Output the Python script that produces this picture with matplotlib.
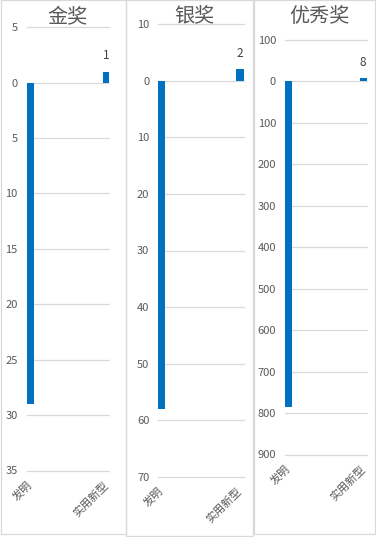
import matplotlib
matplotlib.use('Agg')
import matplotlib.pyplot as plt
from matplotlib.patches import Rectangle
from matplotlib.ticker import FuncFormatter, MultipleLocator

plt.rcParams['font.family'] = ['Noto Sans CJK SC', 'DejaVu Sans']

# data
titles = ['金奖', '银奖', '优秀奖']
categories = ['发明', '实用新型']
faming = [29, 58, 785]
shiyong = [1, 2, 8]
y_max = [35, 70, 900]
y_min = [5, 10, 100]
y_step = [5, 10, 100]

W, H = 376, 537
blue = '#0070C0'
grid_c = '#D9D9D9'
text_c = '#595959'

def rect(x0, y0, x1, y1):
    return [x0 / W, 1 - y1 / H, (x1 - x0) / W, (y1 - y0) / H]

fig = plt.figure(figsize=(W / 100, H / 100), dpi=100)

# panel frames
frames = [(1, 0, 126, 534), (126, 0, 253, 536), (254, 0, 375, 534)]
for x0, y0, x1, y1 in frames:
    fig.patches.append(Rectangle((x0 / W, 1 - y1 / H), (x1 - x0) / W, (y1 - y0) / H,
                                 transform=fig.transFigure, fill=False,
                                 edgecolor=grid_c, linewidth=0.9))

axes_px = [(26.7, 27.3, 109.5, 470.5), (158.3, 24, 243.5, 477), (285, 40, 366.5, 454.5)]
title_px = [(68, 17), (194.5, 16.5), (319, 17)]

w = 0.09
for i in range(3):
    ax = fig.add_axes(rect(*axes_px[i]))
    ax.bar(0, faming[i], width=w, color=blue, zorder=3)
    ax.bar(1, -shiyong[i], width=w, color=blue, zorder=3)
    ax.annotate(str(shiyong[i]), xy=(1, -shiyong[i]), xytext=(0, 11.5),
                textcoords='offset points', ha='center', va='center',
                fontsize=8.5, color='#404040')
    ax.set_xlim(-w / 2, 1 + w / 2)
    ax.set_ylim(y_max[i], -y_min[i])
    ax.yaxis.set_major_locator(MultipleLocator(y_step[i]))
    ax.yaxis.set_major_formatter(FuncFormatter(lambda v, p: '%d' % abs(round(v))))
    ax.grid(axis='y', color=grid_c, linewidth=0.9, zorder=0)
    for g in ax.get_ygridlines():
        g.set_clip_on(False)
    for s in ax.spines.values():
        s.set_visible(False)
    ax.tick_params(axis='y', length=0, pad=6.5, labelsize=8, labelcolor=text_c)
    ax.tick_params(axis='x', length=0, pad=9, labelsize=8, labelcolor=text_c)
    ax.set_xticks([0, 1])
    ax.set_xticklabels(categories, rotation=45, ha='right', va='center',
                       rotation_mode='anchor')
    fig.text(title_px[i][0] / W, 1 - title_px[i][1] / H, titles[i],
             ha='center', va='center', fontsize=14.5, color=text_c)

fig.savefig('out.png', dpi=100)
